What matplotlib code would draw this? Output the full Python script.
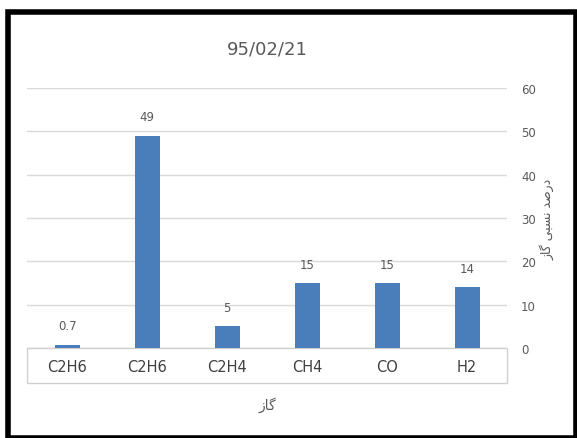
import matplotlib
matplotlib.use('Agg')
import matplotlib.pyplot as plt
from matplotlib.patches import Rectangle

gases = ['C2H6', 'C2H6', 'C2H4', 'CH4', 'CO', 'H2']
percent = [0.7, 49, 5, 15, 15, 14]
value_labels = ['0.7', '49', '5', '15', '15', '14']
yticks = [0, 10, 20, 30, 40, 50, 60]

title = '95/02/21'
# Persian labels written in presentation forms, visual order (no shaping in matplotlib)
xlabel = '\uFEAF\uFE8E\uFB94'                        # گاز
ylabel = '\uFEAF\uFE8E\uFB94 \uFBFD\uFE92\uFEB4\uFEE7 \uFEAA\uFEBB\uFEAD\uFEA9'  # درصد نسبی گاز

grey = '#595959'
bar_col = '#4a7ebb'

fig = plt.figure(figsize=(5.77, 4.39), dpi=100)
ax = fig.add_axes([0.047, 0.205, 0.832, 0.592])

x = range(len(gases))
bars = ax.bar(x, percent, width=0.31, color=bar_col, zorder=3)
for b, t in zip(bars, value_labels):
    ax.annotate(t, (b.get_x() + b.get_width() / 2, b.get_height()),
                xytext=(0, 9), textcoords='offset points',
                ha='center', va='bottom', fontsize=8.5, color=grey)

ax.set_xlim(-0.5, len(gases) - 0.5)
ax.set_ylim(0, 60)
ax.set_yticks(yticks)
ax.yaxis.tick_right()
ax.tick_params(axis='y', length=0, pad=10, labelsize=8.5, labelcolor=grey)
ax.tick_params(axis='x', length=0, pad=8, labelsize=10.5, labelcolor='#404040')
ax.set_xticks(list(x))
ax.set_xticklabels(gases)
ax.grid(axis='y', color='#d9d9d9', linewidth=1, zorder=0)
for s in ax.spines.values():
    s.set_visible(False)

# category box under the axis
ax.add_patch(Rectangle((0, -0.135), 1.0, 0.135, transform=ax.transAxes,
                       fill=False, edgecolor='#d0d0d0', linewidth=1, clip_on=False))

ax.set_title(title, fontsize=13, color=grey, pad=25)
ax.set_xlabel(xlabel, fontsize=10, color=grey, labelpad=16, family='DejaVu Sans')
ax.yaxis.set_label_position('right')
ax.set_ylabel(ylabel, fontsize=9, color=grey, rotation=90, labelpad=3, family='DejaVu Sans')

# black frame around the picture
fig.add_artist(Rectangle((0.013, 0.0), 0.985, 0.97, transform=fig.transFigure,
                         fill=False, edgecolor='black', linewidth=4))

fig.savefig('out.png', dpi=100)
